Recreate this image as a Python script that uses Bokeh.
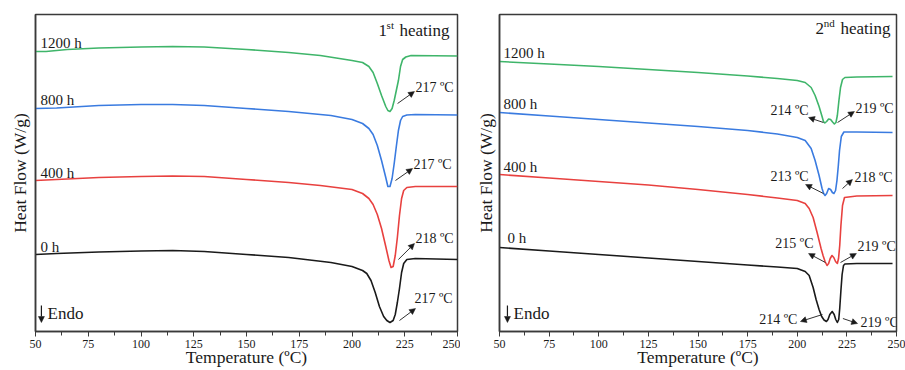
from bokeh.plotting import figure
from bokeh.layouts import row
from bokeh.models import Range1d, Arrow, NormalHead, FixedTicker, ColumnDataSource
from bokeh.embed import file_html
from bokeh.resources import INLINE
from bokeh.core.properties import value

FONT = "Liberation Serif"

# ---------------- data (heat flow, arbitrary offset units, W/g) ----------------
SERIES = ["0 h", "400 h", "800 h", "1200 h"]
COLORS = ["#1a1a1a", "#e8413f", "#3a7be0", "#3fb56a"]
X_TICKS = [50, 75, 100, 125, 150, 175, 200, 225, 250]

# 1st heating
H1_T_0H = [50, 60, 80, 100, 115, 130, 150, 170, 190, 200, 205, 207, 209, 211, 213, 215, 216.5, 218, 219.5, 220.5, 221.5, 222.5, 223.5, 224.5, 226, 230, 250]
H1_HF_0H = [-2.54, -2.53, -2.515, -2.505, -2.50, -2.51, -2.54, -2.57, -2.62, -2.66, -2.70, -2.73, -2.80, -2.92, -3.06, -3.16, -3.20, -3.22, -3.20, -3.14, -3.02, -2.88, -2.72, -2.63, -2.59, -2.58, -2.59]
H1_T_400H = [50, 60, 80, 100, 115, 130, 150, 170, 185, 200, 205, 208, 210, 212, 214, 216, 217.5, 218.5, 219.5, 220.5, 221.5, 222.5, 223.5, 224.5, 226, 230, 250]
H1_HF_400H = [-1.80, -1.79, -1.77, -1.76, -1.755, -1.76, -1.79, -1.82, -1.85, -1.89, -1.93, -1.98, -2.04, -2.14, -2.28, -2.46, -2.60, -2.67, -2.66, -2.55, -2.37, -2.15, -1.98, -1.90, -1.87, -1.86, -1.86]
H1_T_800H = [50, 60, 80, 100, 115, 130, 150, 170, 190, 200, 205, 208, 210, 212, 214, 216, 217, 218, 219, 220, 221, 222, 223, 224, 226, 230, 250]
H1_HF_800H = [-1.08, -1.075, -1.05, -1.04, -1.04, -1.05, -1.08, -1.11, -1.15, -1.19, -1.23, -1.28, -1.34, -1.45, -1.60, -1.77, -1.86, -1.86, -1.78, -1.63, -1.46, -1.30, -1.20, -1.16, -1.145, -1.14, -1.145]
H1_T_1200H = [50, 55, 65, 80, 100, 115, 130, 150, 170, 185, 200, 205, 208, 210, 212, 214, 216, 217, 218, 219, 220, 221, 222, 223, 224, 225.5, 228, 250]
H1_HF_1200H = [-0.51, -0.51, -0.49, -0.475, -0.465, -0.46, -0.465, -0.49, -0.52, -0.55, -0.60, -0.62, -0.66, -0.72, -0.83, -0.95, -1.06, -1.10, -1.11, -1.08, -1.00, -0.90, -0.80, -0.66, -0.59, -0.565, -0.55, -0.555]
H1_PEAKS = [217, 218, 217, 217]  # 0 h, 400 h, 800 h, 1200 h

# 2nd heating
H2_T_0H = [50, 75, 100, 125, 150, 175, 190, 200, 204, 206, 208, 209.5, 211, 212.3, 213.5, 214.7, 215.5, 216.4, 217.6, 218.6, 219.4, 220.2, 220.9, 221.4, 222, 222.6, 223.3, 224, 230, 248]
H2_HF_0H = [-2.47, -2.505, -2.54, -2.575, -2.61, -2.645, -2.665, -2.68, -2.71, -2.75, -2.87, -2.99, -3.09, -3.16, -3.195, -3.21, -3.19, -3.14, -3.11, -3.14, -3.19, -3.22, -3.19, -3.08, -2.90, -2.74, -2.65, -2.635, -2.63, -2.63]
H2_T_400H = [50, 75, 100, 125, 150, 175, 190, 200, 204, 206, 208, 210, 212, 213, 214, 215, 215.8, 216.6, 217.5, 218.4, 219.3, 220.2, 220.8, 221.4, 222, 222.8, 223.8, 230, 248]
H2_HF_400H = [-1.74, -1.775, -1.81, -1.845, -1.89, -1.94, -1.975, -2.00, -2.03, -2.08, -2.17, -2.32, -2.48, -2.55, -2.61, -2.65, -2.63, -2.58, -2.55, -2.57, -2.61, -2.63, -2.58, -2.45, -2.25, -2.05, -1.97, -1.955, -1.95]
H2_T_800H = [50, 75, 100, 125, 150, 175, 190, 200, 204, 207, 209, 211, 212.5, 213.3, 214, 214.8, 215.8, 216.8, 217.7, 218.5, 219.3, 220, 220.7, 221.3, 222.2, 223.5, 230, 248]
H2_HF_800H = [-1.12, -1.155, -1.19, -1.225, -1.26, -1.30, -1.335, -1.37, -1.40, -1.48, -1.60, -1.75, -1.88, -1.93, -1.95, -1.93, -1.88, -1.89, -1.92, -1.93, -1.90, -1.80, -1.65, -1.50, -1.36, -1.315, -1.315, -1.32]
H2_T_1200H = [50, 75, 100, 125, 150, 175, 190, 200, 204, 207, 209, 211, 212.5, 213.2, 213.9, 214.8, 215.8, 216.8, 217.8, 218.7, 219.5, 220.2, 221, 221.8, 222.8, 224, 230, 248]
H2_HF_1200H = [-0.61, -0.635, -0.66, -0.69, -0.72, -0.755, -0.78, -0.80, -0.82, -0.87, -0.95, -1.06, -1.16, -1.21, -1.225, -1.21, -1.185, -1.19, -1.215, -1.235, -1.22, -1.15, -1.00, -0.87, -0.79, -0.77, -0.765, -0.76]
H2_PEAKS_LOW = [214, 215, 213, 214]
H2_PEAKS_HIGH = [219, 219, 218, 219]

# ---------------- annotation placement (layout, not data) ----------------
H1_SERIES_LABEL_POS = [(52.4, -2.46), (52.4, -1.72), (52.4, -0.99), (52.4, -0.42)]
H1_PEAK_TEXT_POS = [(229.6, -2.98), (230.1, -2.38), (229.1, -1.64), (230.1, -0.87)]
H1_PEAK_ARROWS = [(222.5, -3.20, 230.1, -3.08), (222.0, -2.59, 229.6, -2.43),
                  (220.6, -1.80, 228.7, -1.68), (221.6, -1.03, 229.6, -0.91)]

H2_SERIES_LABEL_POS = [(54.0, -2.37), (52.0, -1.66), (52.0, -1.03), (52.0, -0.52)]
H2_LOW_TEXT_POS = [(200.1, -3.19), (208.2, -2.43), (205.7, -1.76), (205.7, -1.10)]
H2_LOW_ARROWS = [(212.7, -3.14, 201.6, -3.21), (214.2, -2.62, 205.7, -2.53),
                 (213.2, -1.93, 204.2, -1.84), (213.2, -1.22, 205.7, -1.17)]
H2_HIGH_TEXT_POS = [(231.9, -3.22), (230.4, -2.46), (228.8, -1.77), (229.3, -1.08)]
H2_HIGH_ARROWS = [(223.0, -3.18, 230.4, -3.23), (221.8, -2.62, 229.8, -2.53),
                  (222.8, -1.88, 227.8, -1.79), (220.3, -1.22, 228.8, -1.11)]


def make_fig(width, border_left, border_right, label_standoff):
    p = figure(width=width, height=370, x_range=Range1d(50, 250), y_range=Range1d(-3.31, -0.14),
               output_backend="svg", toolbar_location=None,
               min_border_left=border_left, min_border_right=border_right,
               min_border_top=14, min_border_bottom=39)
    p.grid.visible = False
    p.outline_line_color = "#3a3a3a"
    p.outline_line_width = 1.5
    p.background_fill_color = "white"
    p.border_fill_color = "white"

    xa = p.xaxis[0]
    xa.ticker = FixedTicker(ticks=X_TICKS, minor_ticks=[t + 12.5 for t in X_TICKS[:-1]])
    xa.axis_line_color = "#3a3a3a"
    xa.axis_line_width = 1.5
    xa.major_tick_in = 0
    xa.major_tick_out = 5
    xa.minor_tick_in = 0
    xa.minor_tick_out = 4
    xa.major_tick_line_color = "#3a3a3a"
    xa.minor_tick_line_color = "#3a3a3a"
    xa.major_label_text_font = FONT
    xa.major_label_text_font_size = "12px"
    xa.major_label_text_color = "#1a1a1a"
    xa.major_label_standoff = 3
    xa.axis_label = "Temperature (ºC)"
    xa.axis_label_text_font = FONT
    xa.axis_label_text_font_size = "17.5px"
    xa.axis_label_text_font_style = "normal"
    xa.axis_label_text_color = "#1a1a1a"
    xa.axis_label_standoff = -4

    ya = p.yaxis[0]
    ya.ticker = FixedTicker(ticks=[])
    ya.axis_line_color = "#3a3a3a"
    ya.axis_line_width = 1.5
    ya.major_tick_line_color = None
    ya.minor_tick_line_color = None
    ya.major_label_text_font_size = "0px"
    ya.axis_label = "Heat Flow (W/g)"
    ya.axis_label_text_font = FONT
    ya.axis_label_text_font_size = "17.5px"
    ya.axis_label_text_font_style = "normal"
    ya.axis_label_text_color = "#1a1a1a"
    ya.axis_label_standoff = label_standoff
    return p


def add_text(p, xs, ys, texts, size, align="left"):
    p.text(x=xs, y=ys, text=texts, text_font=value(FONT), text_font_size=size,
           text_baseline="middle", text_align=align, text_color="#1a1a1a")


def add_arrows(p, arrows):
    src = ColumnDataSource(dict(x0=[a[0] for a in arrows], y0=[a[1] for a in arrows],
                                x1=[a[2] for a in arrows], y1=[a[3] for a in arrows]))
    p.add_layout(Arrow(x_start="x0", y_start="y0", x_end="x1", y_end="y1", source=src,
                       line_color="#1a1a1a", line_width=0.9,
                       end=NormalHead(size=6, fill_color="#1a1a1a", line_color="#1a1a1a", line_width=0.5)))


def add_endo(p, x_arrow, x_text):
    p.add_layout(Arrow(x_start=x_arrow, y_start=-3.05, x_end=x_arrow, y_end=-3.22,
                       line_color="#1a1a1a", line_width=1.2,
                       end=NormalHead(size=6, fill_color="#1a1a1a", line_color="#1a1a1a", line_width=0.5)))
    add_text(p, [x_text], [-3.13], ["Endo"], "17px")


def add_title(p, x_num, x_sup, x_word, y_main, y_sup, num, sup):
    add_text(p, [x_num], [y_main], [num], "17px")
    add_text(p, [x_sup], [y_sup], [sup], "11px")
    add_text(p, [x_word], [y_main], ["heating"], "17px")


# ---------------- 1st heating ----------------
p1 = make_fig(460, 35, 3, 6)
h1_t = [H1_T_0H, H1_T_400H, H1_T_800H, H1_T_1200H]
h1_hf = [H1_HF_0H, H1_HF_400H, H1_HF_800H, H1_HF_1200H]
for t, hf, c in zip(h1_t, h1_hf, COLORS):
    p1.line(t, hf, line_color=c, line_width=1.6, line_join="round")
add_text(p1, [q[0] for q in H1_SERIES_LABEL_POS], [q[1] for q in H1_SERIES_LABEL_POS], SERIES, "15px")
add_text(p1, [q[0] for q in H1_PEAK_TEXT_POS], [q[1] for q in H1_PEAK_TEXT_POS],
         [f"{v} ºC" for v in H1_PEAKS], "14px")
add_arrows(p1, H1_PEAK_ARROWS)
add_endo(p1, 52.8, 55.7)
add_title(p1, 212.6, 216.4, 222.5, -0.30, -0.245, "1", "st")

# ---------------- 2nd heating ----------------
p2 = make_fig(445, 39, 9, 4)
h2_t = [H2_T_0H, H2_T_400H, H2_T_800H, H2_T_1200H]
h2_hf = [H2_HF_0H, H2_HF_400H, H2_HF_800H, H2_HF_1200H]
for t, hf, c in zip(h2_t, h2_hf, COLORS):
    p2.line(t, hf, line_color=c, line_width=1.6, line_join="round")
add_text(p2, [q[0] for q in H2_SERIES_LABEL_POS], [q[1] for q in H2_SERIES_LABEL_POS], SERIES, "15px")
add_text(p2, [q[0] for q in H2_LOW_TEXT_POS], [q[1] for q in H2_LOW_TEXT_POS],
         [f"{v} ºC" for v in H2_PEAKS_LOW], "14px", align="right")
add_text(p2, [q[0] for q in H2_HIGH_TEXT_POS], [q[1] for q in H2_HIGH_TEXT_POS],
         [f"{v} ºC" for v in H2_PEAKS_HIGH], "14px")
add_arrows(p2, H2_LOW_ARROWS)
add_arrows(p2, H2_HIGH_ARROWS)
add_endo(p2, 54.0, 57.1)
add_title(p2, 209.2, 213.4, 221.8, -0.28, -0.225, "2", "nd")

layout = row(p1, p2)
open("out.html", "w").write(file_html(layout, INLINE))
